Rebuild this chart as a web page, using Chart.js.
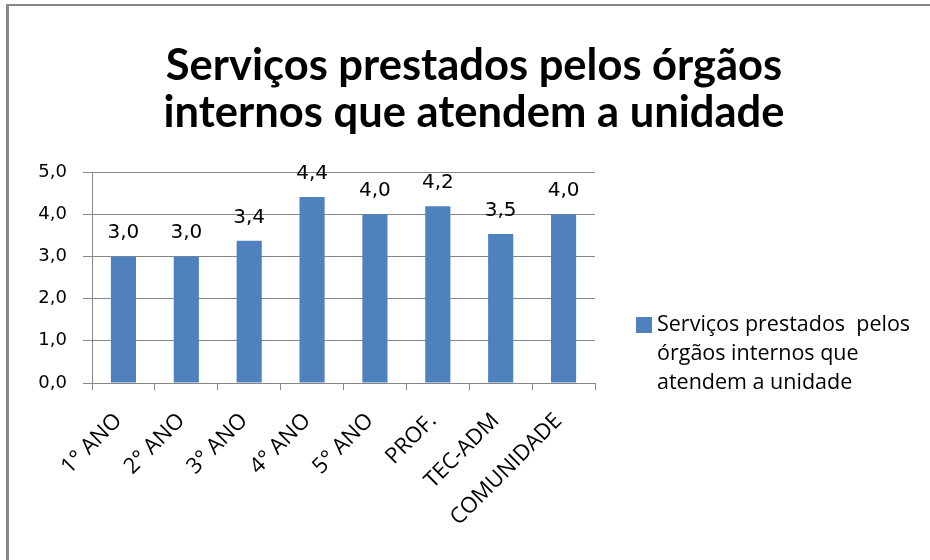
<!DOCTYPE html>
<html>
<head>
<meta charset="utf-8">
<script src="https://cdn.jsdelivr.net/npm/chart.js@4.4.0/dist/chart.umd.min.js"></script>
<style>
  html, body { margin: 0; background: #fff; overflow: hidden; }
  #frame { position: absolute; left: 6px; top: 4px; width: 960px; height: 600px;
           border-top: 2px solid #878787; border-left: 3px solid #878787; }
  #wrap { position: absolute; left: 0; top: 0; width: 930px; height: 560px; }
</style>
</head>
<body>
<div id="frame"></div>
<div id="wrap"><canvas id="chart"></canvas></div>
<script>
const categories = ['1° ANO', '2° ANO', '3° ANO', '4° ANO', '5° ANO', 'PROF.', 'TEC-ADM', 'COMUNIDADE'];
const values = [3.0, 3.0, 3.37, 4.41, 4.0, 4.19, 3.53, 4.0];
const seriesName = 'Serviços prestados pelos órgãos internos que atendem a unidade';
const titleLines = ['Serviços prestados pelos órgãos', 'internos que atendem a unidade'];
const legendLines = ['Serviços prestados  pelos', 'órgãos internos que', 'atendem a unidade'];
const yMin = 0, yMax = 5, yStep = 1;

const BAR = '#4F81BD';
const GRID = '#878787';

function fmt(v) {
    return v.toFixed(1).replace('.', ',');
}

// title + legend drawn by hand, so the plot area can sit left of the legend
const decorPlugin = {
    id: 'decor',
    afterDraw(chart) {
        const ctx = chart.ctx;
        ctx.save();
        ctx.fillStyle = '#000';
        ctx.textAlign = 'center';
        ctx.textBaseline = 'alphabetic';
        ctx.font = 'bold 43.5px Lato';
        ctx.fillText(titleLines[0], 474, 80);
        ctx.fillText(titleLines[1], 474, 127);

        ctx.fillStyle = BAR;
        ctx.fillRect(636, 317, 16, 16);
        ctx.fillStyle = '#000';
        ctx.textAlign = 'left';
        ctx.textBaseline = 'middle';
        ctx.font = '21.5px "Open Sans"';
        legendLines.forEach((t, i) => ctx.fillText(t, 657, 325 + i * 29));
        ctx.restore();
    }
};

const valueLabels = {
    id: 'valueLabels',
    afterDatasetsDraw(chart) {
        const ctx = chart.ctx;
        const meta = chart.getDatasetMeta(0);
        ctx.save();
        ctx.fillStyle = '#000';
        ctx.textAlign = 'center';
        ctx.textBaseline = 'alphabetic';
        ctx.font = '20px "DejaVu Sans"';
        meta.data.forEach((bar, i) => {
            ctx.fillText(fmt(values[i]), bar.x, bar.y - 18);
        });
        ctx.restore();
    }
};

new Chart(document.getElementById('chart').getContext('2d'), {
    type: 'bar',
    data: {
        labels: categories,
        datasets: [{
            label: seriesName,
            data: values,
            backgroundColor: BAR,
            borderWidth: 0,
            categoryPercentage: 1.0,
            barPercentage: 0.4,
        }]
    },
    options: {
        responsive: true,
        maintainAspectRatio: false,
        animation: false,
        layout: {
            padding: { left: 30, right: 335, top: 172, bottom: 0 }
        },
        plugins: {
            legend: { display: false },
            title: { display: false },
            tooltip: { enabled: false },
        },
        scales: {
            x: {
                afterFit: s => { s.height = 177; },
                grid: {
                    offset: true,
                    drawOnChartArea: false,
                    drawTicks: true,
                    tickLength: 7,
                    color: GRID,
                },
                border: { display: true, color: GRID, width: 1 },
                ticks: {
                    color: '#000',
                    font: { family: 'Open Sans', size: 22 },
                    minRotation: 45,
                    maxRotation: 45,
                    padding: 18,
                    labelOffset: -5,
                    autoSkip: false,
                },
            },
            y: {
                min: yMin,
                max: yMax,
                afterFit: s => { s.width = 62; },
                grid: {
                    color: GRID,
                    tickLength: 9,
                },
                border: { display: true, color: GRID, width: 1 },
                ticks: {
                    stepSize: yStep,
                    color: '#000',
                    font: { family: 'DejaVu Sans', size: 18 },
                    padding: 16,
                    callback: v => fmt(v),
                },
            }
        }
    },
    plugins: [decorPlugin, valueLabels]
});
</script>
</body>
</html>
